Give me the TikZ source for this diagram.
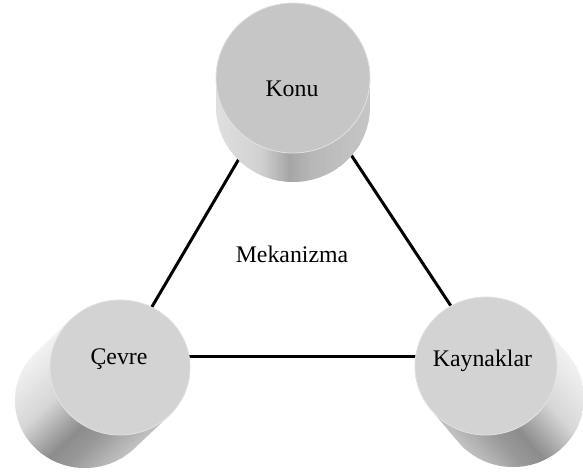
\documentclass[tikz,border=0pt]{standalone}
\usepackage{fontspec}
\setmainfont{Liberation Serif}
\definecolor{facerim}{HTML}{E2E2E2}
\definecolor{faceA}{HTML}{C6C6C6}
\definecolor{faceB}{HTML}{D3D3D3}
\newcommand\drawcyl[9]{%
 \pgfmathsetmacro\cylt{atan2(-(#4)*(#5),(#3)*(#6))}%
 \pgfmathsetmacro\cylte{\cylt+180}%
 \pgfmathsetmacro\cyltf{\cylt+360}%
 \pgfmathsetmacro\cylR{max(#3,#4)+3}%
 \begin{scope}
  \clip plot[domain=\cylt:\cylte,samples=90,variable=\t] ({#1+(#5)+#3*cos(\t)},{#2+(#6)+#4*sin(\t)})
    -- plot[domain=\cylte:\cyltf,samples=90,variable=\t] ({#1+#3*cos(\t)},{#2+#4*sin(\t)}) -- cycle;
  \begin{scope}[shift={({#1+0.5*(#5)},{#2+0.5*(#6)})},rotate=#7]
   \foreach \i in {0,...,69}{
     \pgfmathsetmacro\cyls{(\i+0.5)/70}
     \pgfmathsetmacro\cylg{#8(\cyls)}
     \definecolor{stripc}{gray}{\cylg}
     \fill[stripc] ({-\cylR+2*\cylR*\i/70},-150) rectangle ({-\cylR+2*\cylR*(\i+1)/70+0.6},150);
   }
  \end{scope}
 \end{scope}
 \fill[fill=#9,draw=facerim,line width=0.8pt] (#1,#2) ellipse[x radius=#3pt, y radius=#4pt];
}
\begin{document}
\begin{tikzpicture}[x=1pt,y=1pt,
  declare function={
    gA(\s)=(\s<0.35) ? (0.96-0.12*\s/0.35) : ((\s<0.62) ? (0.84-0.29*(\s-0.35)/0.27) : ((\s<0.75) ? (0.55+0.05*(\s-0.62)/0.13) : (0.60+0.18*(\s-0.75)/0.25)));
    gK(\s)=(\s<0.3) ? (0.88-0.06*\s/0.3) : ((\s<0.48) ? (0.82-0.17*(\s-0.3)/0.18) : ((\s<0.62) ? (0.65+0.07*(\s-0.48)/0.14) : (0.72+0.06*(\s-0.62)/0.38)));
  },
  lbl/.style={font=\fontsize{23.8}{28}\selectfont, inner sep=0pt, anchor=base, text=black},
  link/.style={line width=3pt, black}]
\useasboundingbox (0,0) rectangle (583,475);
% connector anchors
\coordinate (konuC) at (293,408);
\coordinate (cevreC) at (123,119);
\coordinate (kaynakC) at (484,119);
\draw[link] (konuC) -- (cevreC);
\draw[link] (konuC) -- (kaynakC);
\draw[link] (cevreC) -- (kaynakC);
% cylinders
\drawcyl{293}{397}{77}{75}{0}{-29}{0}{gK}{faceA}
\drawcyl{120}{107.5}{70}{67.5}{-35}{-33}{-46.7}{gA}{faceB}
\drawcyl{486}{109}{71}{69}{27}{-32}{221.2}{gA}{faceB}
% labels
\node[lbl] (konu) at (292,378) {Konu};
\node[lbl] (cevre) at (119,111) {Çevre};
\node[lbl] (kaynak) at (482.5,109) {Kaynaklar};
\node[lbl] (mek) at (292,213) {Mekanizma};
\end{tikzpicture}
\end{document}
